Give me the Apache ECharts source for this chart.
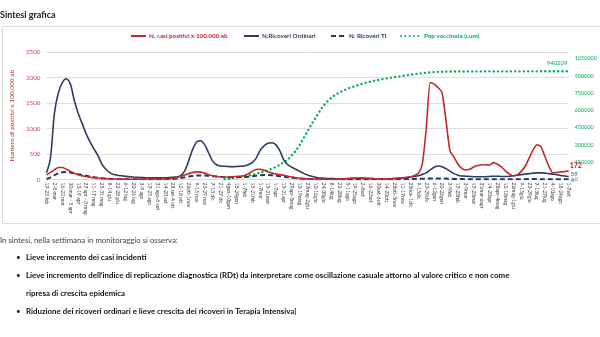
<!DOCTYPE html>
<html><head><meta charset="utf-8">
<script src="https://cdn.jsdelivr.net/npm/echarts@6/dist/echarts.min.js"></script>
<style>html,body{margin:0;padding:0;background:#fff}#c{width:600px;height:337px}</style>
</head><body><div id="c"></div>
<script>
// Week labels (x categories)
const weeks = [
 '17-23 feb','24 feb-1 mar','2-8 mar','9-15 mar','16-22 mar','23-29 mar','30 mar - 5 apr','6-12 apr','13-19 apr','20-26 apr',
 '27 apr - 3 mag','4-10 mag','11-17 mag','18-24 mag','25-31 mag','1-7 giu','8-14 giu','15-21 giu','22-28 giu','29 giu-5 lug',
 '6-12 lug','13-19 lug','20-26 lug','27 lug-2 ago','3-9 ago','10-16 ago','17-23 ago','24-30 ago','31 ago-6 set','7-13 set',
 '14-20 set','21-27 set','28 set-4 ott','5-11 ott','12-18 ott','19-25 ott','26ott-1nov','2-8 nov','9-15 nov','16-22 nov',
 '23-29 nov','30nov-6dic','7-13 dic','14-20 dic','21-27 dic','28dic-3gen','4gen-10gen','11-17gen','18-24gen','25-31gen',
 '1-7feb','8-14feb','15-21feb','22-28feb','1-7mar','8-14mar','15-21mar','22-31mar','1-7apr','8-14apr',
 '15-21apr','22-28apr','29apr-5mag','6-12mag','13-19mag','20-26mag','27mag-2giu','3-9giu','10-16giu','17-23giu',
 '24-30giu','1-7lug','8-14lug','15-21lug','22-28lug','29lug-4ago','5-11ago','12-18ago','19-25ago','26ago-1set',
 '2-8set','9-15set','16-22set','23-29set','30set-6ott','7-13ott','14-20ott','21-27ott','28ott-3nov','4-10nov',
 '11-17nov','18-24nov','25nov-1dic','2-8dic','9-15dic','16-22dic','23-29dic','30dic-5gen','6-12gen','13-19gen',
 '20-26gen','27gen-2feb','3-9feb','10-16feb','17-23feb','24feb-2mar','3-9mar','10-16mar','17-23mar','24-30mar',
 '31mar-6apr','7-13apr','14-20apr','21-27apr','28apr-4mag','5-11mag','12-18mag','19-25mag','26mag-1giu','2-8giu',
 '9-15giu','16-22giu','23-29giu','30giu-6lug','7-13lug','14-20lug','21-27lug','28lug-3ago','4-10ago','11-17ago',
 '18-24ago','25-31ago','1-7set'
];

// N. casi positivi x 100.000 ab (left axis)
const casiPositivi = [
 90,140,190,235,235,200,160,125,95,72,58,45,36,28,22,18,14,11,9,8,
 7,6,6,6,7,8,10,12,12,11,
 10,15,25,40,65,90,115,140,150,145,125,95,75,60,50,45,50,55,60,65,80,110,160,195,200,180,150,125,110,95,85,65,50,35,25,18,12,10,8,
 7,6,5,5,6,8,12,18,24,28,30,28,24,20,16,14,13,13,14,
 20,25,30,40,55,80,120,300,
 1000,1900,1870,1800,1700,1150,560,440,300,220,185,200,245,275,285,290,285,330,300,250,170,110,70,90,160,260,420,580,680,640,450,260,130,140,150,155,172
];

// N. Ricoveri Ordinari (left axis)
const ricoveriOrdinari = [
 130,420,1300,1700,1900,1975,1880,1560,1300,1100,900,740,600,470,300,200,135,100,85,72,
 62,55,48,42,38,35,33,32,32,33,35,38,45,
 50,80,180,380,600,740,760,680,520,360,290,265,260,255,250,255,260,265,290,330,420,570,660,710,720,680,560,380,290,240,200,160,120,90,65,45,30,
 25,20,18,16,15,15,16,18,20,22,22,20,18,16,15,15,15,16,
 20,25,30,40,50,60,75,100,130,190,240,265,250,210,165,115,85,70,65,60,55,
 55,55,55,60,65,65,60,60,65,75,85,95,105,115,125,130,130,125,115,105,95,80,70,59
];

// N. Ricoveri TI (left axis)
const ricoveriTI = [
 10,40,85,120,140,145,135,120,105,90,72,58,45,35,26,19,14,10,8,6,
 5,4,4,3,3,3,3,3,4,4,
 5,8,12,20,30,45,60,70,78,80,78,72,65,58,52,48,45,45,45,48,50,55,65,75,85,90,90,85,75,65,55,45,35,28,20,15,10,8,6,
 5,4,4,3,3,3,4,5,6,6,6,5,5,4,4,4,4,4,5,
 5,6,7,8,10,12,14,16,18,20,22,22,20,18,15,12,10,8,7,6,6,5,5,5,5,5,4,4,4,4,5,5,6,7,8,8,8,7,6,6,5,5,4,4,4
];

// Pop vaccinata (cum) (right axis)
const popVaccinata = [
 null,null,null,null,null,null,null,null,null,null,null,null,null,null,null,null,null,null,null,null,
 null,null,null,null,null,null,null,null,null,null,null,null,null,null,null,null,null,null,null,null,
 null,null,null,null,null,
 2000,6000,12000,18000,24000,30000,35000,
 40000,50000,60000,70000,80000,95000,110000,130000,150000,175000,210000,250000,
 300000,360000,420000,480000,535000,590000,640000,680000,710000,735000,755000,772000,787000,800000,812000,823000,833000,
 842000,851000,859000,866000,873000,879000,885000,890000,895000,900000,905000,910000,915000,920000,924000,928000,931000,933500,935500,937000,
 937500,938000,938300,938600,938900,939100,939300,939400,939500,939600,939650,939700,939750,939800,939850,939900,
 939920,939940,939960,939980,940000,940020,940040,940060,940080,940100,940120,940140,940160,940180,940195,940209
];

const leftAxisTicks = {min: 0, max: 2500, interval: 500};
const rightAxisTicks = {min: 0, interval: 150000, lastLabel: 1050000};

const RED = '#c0282d', NAVY = '#2e3d5c', NAVY2 = '#1f3864', GREEN = '#00b050';
const FONT = 'Lato';

const chart = echarts.init(document.getElementById('c'));

function legendFor(name, left, color, w) {
  return {
    data: [{name: name, textStyle: {color: color}}],
    left: left, top: 33, itemWidth: w, itemHeight: 6, padding: 0,
    itemStyle: {opacity: 0},
    textStyle: {fontSize: 6.3, fontFamily: FONT, fontWeight: 'bold', padding: [0, 0, 0, -2]},
    selectedMode: false
  };
}
const txt = (x, y, text, size, bold, fill) => ({type: 'text', x: x, y: y, style: {text: text, fontSize: size, fontWeight: bold ? 'bold' : 'normal', fontFamily: FONT, fill: fill, verticalAlign: 'middle'}});

chart.setOption({
  animation: false,
  backgroundColor: '#fff',
  textStyle: {fontFamily: FONT},
  graphic: [
    {type: 'rect', shape: {x: 2.5, y: 26.5, width: 610, height: 197}, style: {fill: 'none', stroke: '#dcdcdc', lineWidth: 1}, z: -10},
    txt(0, 15, 'Sintesi grafica', 9, true, '#1a1a1a'),
    txt(0, 240, 'In sintesi, nella settimana in monitoraggio si osserva:', 7.8, false, '#444'),
    txt(16, 257, '•', 8, false, '#111'),
    txt(26, 257, 'Lieve incremento dei casi incidenti', 7.9, true, '#111'),
    txt(16, 275, '•', 8, false, '#111'),
    txt(26, 275, 'Lieve incremento dell\u2019indice di replicazione diagnostica (RDt) da interpretare come oscillazione casuale attorno al valore critico e non come', 7.9, true, '#111'),
    txt(26, 293, 'ripresa di crescita epidemica', 7.9, true, '#111'),
    txt(16, 311, '•', 8, false, '#111'),
    txt(26, 311, 'Riduzione dei ricoveri ordinari e lieve crescita dei ricoveri in Terapia Intensiva|', 7.9, true, '#111')
  ],
  legend: [
    legendFor('N. casi positivi x 100.000 ab', 130, RED, 15),
    legendFor('N.Ricoveri Ordinari', 243, NAVY, 15),
    legendFor('N. Ricoveri TI', 330, NAVY2, 15),
    legendFor('Pop vaccinata (cum)', 400, GREEN, 20)
  ],
  grid: {left: 43, right: 29, top: 52, bottom: 157.5},
  xAxis: {
    type: 'category', data: weeks, boundaryGap: false,
    axisLine: {show: true, lineStyle: {color: '#d9d9d9'}},
    axisTick: {show: false},
    axisLabel: {interval: 1, rotate: -90, fontSize: 5, color: '#404040', margin: 3, fontFamily: FONT}
  },
  yAxis: [
    {
      type: 'value', min: leftAxisTicks.min, max: leftAxisTicks.max, interval: leftAxisTicks.interval,
      name: 'Numero di positivi x 100.000 ab', nameLocation: 'middle', nameGap: 27,
      nameTextStyle: {color: RED, fontSize: 6.5, fontFamily: FONT},
      axisLine: {show: false}, axisTick: {show: false},
      axisLabel: {color: '#c0504d', fontSize: 6.3, margin: 6, fontFamily: FONT, formatter: v => String(v)},
      splitLine: {lineStyle: {color: '#dedede', width: 1}}
    },
    {
      type: 'value', min: rightAxisTicks.min, max: 1108000, interval: rightAxisTicks.interval,
      axisLine: {show: false}, axisTick: {show: false}, splitLine: {show: false},
      axisLabel: {color: GREEN, fontSize: 5.5, margin: 6, showMaxLabel: false, fontFamily: FONT, formatter: v => String(v)}
    }
  ],
  series: [
    {
      name: 'N. casi positivi x 100.000 ab', type: 'line', data: casiPositivi, yAxisIndex: 0,
      symbol: 'none', smooth: 0.2, z: 4,
      lineStyle: {color: RED, width: 1.6}, itemStyle: {color: RED},
      endLabel: {show: true, formatter: p => String(p.value), color: RED, fontWeight: 'bold', fontSize: 7, distance: 1, offset: [0, -5], fontFamily: FONT}
    },
    {
      name: 'N.Ricoveri Ordinari', type: 'line', data: ricoveriOrdinari, yAxisIndex: 0,
      symbol: 'none', smooth: 0.3, z: 3,
      lineStyle: {color: NAVY, width: 1.6}, itemStyle: {color: NAVY},
      endLabel: {show: true, formatter: p => String(p.value), color: NAVY, fontSize: 6, distance: 2, offset: [0, -2], fontFamily: FONT}
    },
    {
      name: 'N. Ricoveri TI', type: 'line', data: ricoveriTI, yAxisIndex: 0,
      symbol: 'none', smooth: 0.3, z: 3,
      lineStyle: {color: NAVY2, width: 2, type: [5, 3]}, itemStyle: {color: NAVY2},
      endLabel: {show: true, formatter: p => String(p.value), color: NAVY2, fontSize: 6, distance: 2, offset: [0, 1], fontFamily: FONT}
    },
    {
      name: 'Pop vaccinata (cum)', type: 'line', data: popVaccinata, yAxisIndex: 1,
      symbol: 'none', smooth: 0.3, z: 2, connectNulls: false,
      lineStyle: {color: GREEN, width: 2.4, type: [0.1, 4.2], cap: 'round'}, itemStyle: {color: GREEN},
      endLabel: {show: true, formatter: p => String(p.value), color: GREEN, fontSize: 6, distance: 0, offset: [-22, -8], fontFamily: FONT}
    }
  ]
});
</script>
</body></html>
